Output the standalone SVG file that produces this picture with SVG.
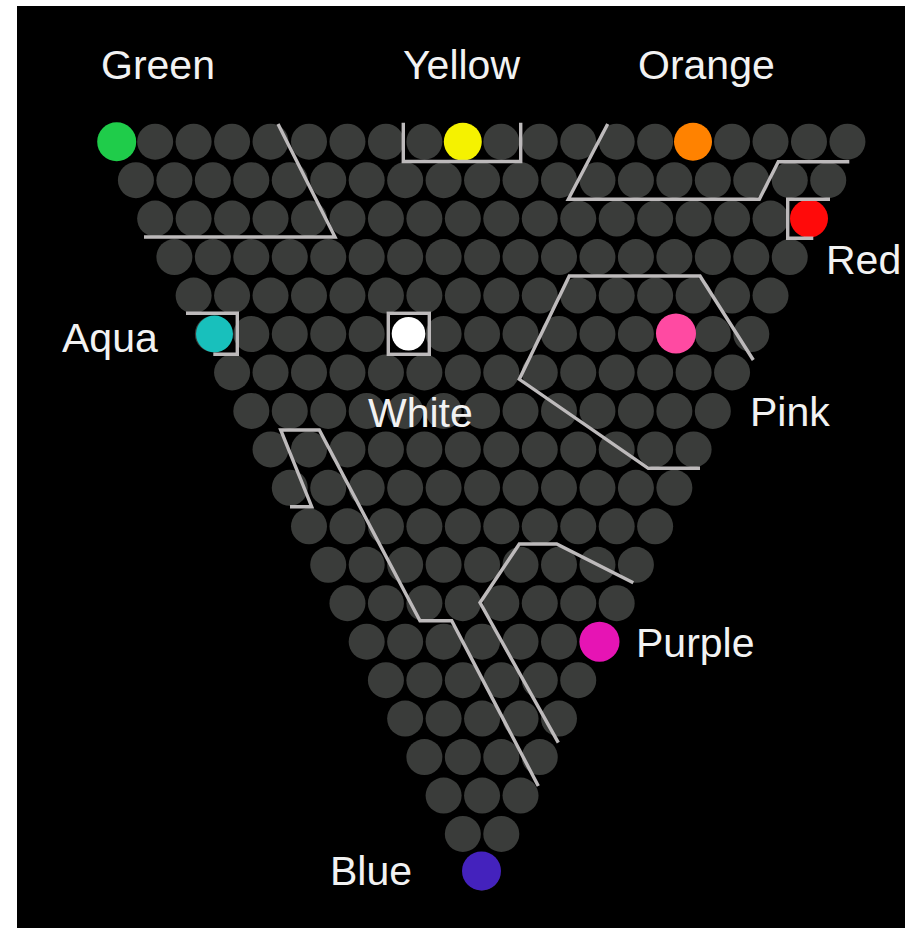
<svg xmlns="http://www.w3.org/2000/svg" xmlns:xlink="http://www.w3.org/1999/xlink" width="910" height="928" viewBox="0 0 910 928">
<style>
.lbl{font-family:"Liberation Sans",Arial,sans-serif;font-size:41px;fill:#f2f2f2}
.wall{fill:none;stroke:#bdbabb;stroke-width:3.4;stroke-linejoin:miter;stroke-linecap:butt}
</style>
<defs>
<circle id="d" r="18" fill="#3a3c3a"/>
<g id="r1"><use href="#d"/></g>
<g id="r2"><use href="#r1"/><use href="#d" x="38.46"/></g>
<g id="r3"><use href="#r2"/><use href="#d" x="76.92"/></g>
<g id="r4"><use href="#r3"/><use href="#d" x="115.38"/></g>
<g id="r5"><use href="#r4"/><use href="#d" x="153.84"/></g>
<g id="r6"><use href="#r5"/><use href="#d" x="192.3"/></g>
<g id="r7"><use href="#r6"/><use href="#d" x="230.76"/></g>
<g id="r8"><use href="#r7"/><use href="#d" x="269.22"/></g>
<g id="r9"><use href="#r8"/><use href="#d" x="307.68"/></g>
<g id="r10"><use href="#r9"/><use href="#d" x="346.14"/></g>
<g id="r11"><use href="#r10"/><use href="#d" x="384.6"/></g>
<g id="r12"><use href="#r11"/><use href="#d" x="423.06"/></g>
<g id="r13"><use href="#r12"/><use href="#d" x="461.52"/></g>
<g id="r14"><use href="#r13"/><use href="#d" x="499.98"/></g>
<g id="r15"><use href="#r14"/><use href="#d" x="538.44"/></g>
<g id="r16"><use href="#r15"/><use href="#d" x="576.9"/></g>
<g id="r17"><use href="#r16"/><use href="#d" x="615.36"/></g>
<g id="r18"><use href="#r17"/><use href="#d" x="653.82"/></g>
<g id="r19"><use href="#r18"/><use href="#d" x="692.28"/></g>
<g id="r20"><use href="#r19"/><use href="#d" x="730.74"/></g>
</defs>
<rect width="910" height="928" fill="#ffffff"/>
<rect x="17" y="6" width="888" height="922" fill="#000000"/>
<g id="grid">
<use href="#r20" x="116.7" y="141.7"/>
<use href="#r19" x="135.93" y="180.16"/>
<use href="#r18" x="155.16" y="218.62"/>
<use href="#r17" x="174.39" y="257.08"/>
<use href="#r16" x="193.62" y="295.54"/>
<use href="#r15" x="212.85" y="334"/>
<use href="#r14" x="232.08" y="372.46"/>
<use href="#r13" x="251.31" y="410.92"/>
<use href="#r12" x="270.54" y="449.38"/>
<use href="#r11" x="289.77" y="487.84"/>
<use href="#r10" x="309" y="526.3"/>
<use href="#r9" x="328.23" y="564.76"/>
<use href="#r8" x="347.46" y="603.22"/>
<use href="#r7" x="366.69" y="641.68"/>
<use href="#r6" x="385.92" y="680.14"/>
<use href="#r5" x="405.15" y="718.6"/>
<use href="#r4" x="424.38" y="757.06"/>
<use href="#r3" x="443.61" y="795.52"/>
<use href="#r2" x="462.84" y="833.98"/>
<use href="#r1" x="482.07" y="872.44"/>
</g>
<g id="green"><circle cx="116.7" cy="141.7" r="19.5" fill="#1fcc4a"/><text class="lbl" x="101" y="79">Green</text></g>
<g id="yellow"><circle cx="462.8" cy="141.7" r="19" fill="#f5f200"/><text class="lbl" x="403" y="79">Yellow</text></g>
<g id="orange"><circle cx="693" cy="141.7" r="19" fill="#ff8200"/><text class="lbl" x="638" y="79">Orange</text></g>
<g id="red"><circle cx="809" cy="218.6" r="19" fill="#ff0a0a"/><text class="lbl" x="826" y="274">Red</text></g>
<g id="aqua"><circle cx="214.5" cy="334" r="18.5" fill="#18c0bc"/><text class="lbl" x="62" y="352">Aqua</text></g>
<g id="white"><circle cx="405.2" cy="334" r="18.4" fill="#000000"/><circle cx="408.5" cy="333.8" r="16.8" fill="#ffffff"/><text class="lbl" x="368" y="427">White</text></g>
<g id="pink"><circle cx="676" cy="333.5" r="20" fill="#ff4aa2"/><text class="lbl" x="750" y="426">Pink</text></g>
<g id="purple"><circle cx="599.5" cy="641.7" r="20" fill="#e614b4"/><text class="lbl" x="636" y="657">Purple</text></g>
<g id="blue"><circle cx="481.5" cy="871" r="19.5" fill="#4422bd"/><text class="lbl" x="330" y="885">Blue</text></g>
<g id="walls">
<polyline class="wall" points="278,124 335,237 144,237"/>
<polyline class="wall" points="403.3,122.7 403.3,161.5 520.7,161.5 520.7,122.7"/>
<polyline class="wall" points="607.7,124 568.3,199.3 759.3,199.3 778.3,161.7 849.3,161.7"/>
<polyline class="wall" points="830,199.3 787.7,199.3 787.7,238.3 813.3,238.3"/>
<polyline class="wall" points="186,313.3 237.3,313.3 237.3,354.3 213.3,354.3"/>
<rect class="wall" x="388.3" y="313.3" width="41" height="41"/>
<polyline class="wall" points="753.3,360 700,276 569.3,276 519.3,379.3 648.3,468.3 700,468.3"/>
<polyline class="wall" points="290,506.7 311.7,506.7 280.7,430 319.3,430 420,620.7 451.7,620.7 538.3,786"/>
<polyline class="wall" points="633.3,582.7 556.7,544 519.3,544 480,602.7 558.3,742.7"/>
</g>
</svg>
